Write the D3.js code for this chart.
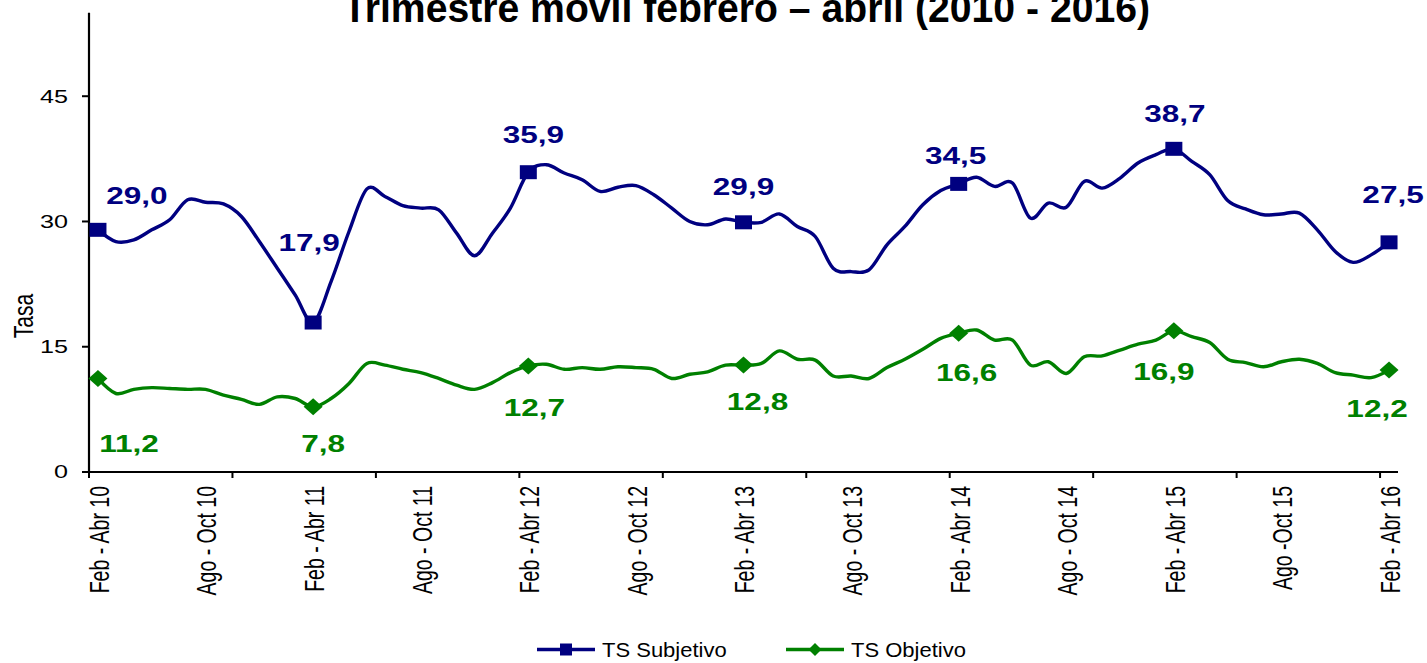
<!DOCTYPE html>
<html>
<head>
<meta charset="utf-8">
<script src="https://cdn.jsdelivr.net/npm/d3@7"></script>
<style>
  html, body { margin: 0; padding: 0; background: #fff; overflow: hidden; }
  text { font-family: "Liberation Sans", Arial, sans-serif; }
</style>
</head>
<body>
<svg id="chart" width="1427" height="663"></svg>
<script>
// ---- data -------------------------------------------------------------
const titleText = "Trimestre móvil febrero – abril (2010 - 2016)";
const yAxisTitle = "Tasa";
const seriesNames = ["TS Subjetivo", "TS Objetivo"];

// rolling quarters, Feb-Abr 2010 ... Feb-Abr 2016 (73 periods)
const monthNames = ["Ene", "Feb", "Mar", "Abr", "May", "Jun", "Jul", "Ago", "Sep", "Oct", "Nov", "Dic"];
const categories = d3.range(73).map(k => {
  const s = k + 1;
  return `${monthNames[s % 12]} - ${monthNames[(s + 2) % 12]} ${10 + Math.floor(s / 12)}`;
});

// labels shown every six periods
const tickLabels = [
  "Feb - Abr 10", "Ago - Oct 10", "Feb - Abr 11", "Ago - Oct 11", "Feb - Abr 12",
  "Ago - Oct 12", "Feb - Abr 13", "Ago - Oct 13", "Feb - Abr 14", "Ago - Oct 14",
  "Feb - Abr 15", "Ago -Oct 15", "Feb - Abr 16"
];
const yTicks = [0, 15, 30, 45];

const subjetivo = [
  29.0, 27.6, 27.8, 29.0, 30.2, 32.6, 32.3, 32.1, 30.6, 27.6, 24.4, 21.2,
  17.9, 22.8, 28.8, 33.9, 33.0, 31.9, 31.6, 31.4, 28.6, 25.9, 28.6, 31.6,
  35.9, 36.8, 35.8, 35.0, 33.6, 34.1, 34.3, 33.2, 31.6, 30.0, 29.6, 30.3,
  29.9, 29.9, 30.9, 29.4, 28.2, 24.4, 24.0, 24.2, 27.2, 29.4, 32.0, 33.7,
  34.5, 35.3, 34.2, 34.6, 30.4, 32.2, 31.7, 34.8, 34.0, 35.2, 37.0, 38.0,
  38.7, 37.2, 35.6, 32.5, 31.5, 30.8, 30.9, 31.0, 29.0, 26.4, 25.1, 26.0,
  27.5
];
const objetivo = [
  11.2, 9.4, 9.9, 10.1, 10.0, 9.9, 9.9, 9.2, 8.7, 8.1, 9.0, 8.8,
  7.8, 8.8, 10.6, 13.0, 12.8, 12.3, 11.9, 11.2, 10.4, 9.9, 10.7, 11.9,
  12.7, 12.9, 12.3, 12.5, 12.3, 12.6, 12.5, 12.3, 11.2, 11.7, 12.0, 12.8,
  12.8, 13.0, 14.5, 13.5, 13.4, 11.5, 11.5, 11.2, 12.5, 13.5, 14.7, 16.0,
  16.6, 17.0, 15.8, 15.8, 12.8, 13.2, 11.8, 13.8, 13.9, 14.6, 15.3, 15.8,
  16.9, 16.2, 15.5, 13.5, 13.1, 12.6, 13.2, 13.5, 13.0, 11.9, 11.6, 11.3,
  12.2
];

// periods that carry a marker and a value label (one per year)
const labelled = [0, 12, 24, 36, 48, 60, 72];

// ---- layout -----------------------------------------------------------
const plot = { left: 89, right: 1398, top: 12.7, bottom: 472 };
const colors = { subjetivo: "#000080", objetivo: "#008000", axis: "#000" };
// label placement relative to each marker [dx, dy(baseline)]
const subjLabelOffsets = [[39, -26], [-4, -72], [5, -29], [0, -27], [-3, -20], [1, -27], [4, -39]];
const objLabelOffsets  = [[31, 74], [10, 45], [6, 50], [14, 45], [8, 48], [-10, 49], [-12, 47]];
const textStretch = 1.4;

const svg = d3.select("#chart");

const x = d3.scalePoint()
  .domain(d3.range(categories.length))
  .range([plot.left, plot.right])
  .padding(0.5);
const step = x.step();

const y = d3.scaleLinear().domain([0, 55]).range([plot.bottom, plot.top]);

const fmt = v => v.toFixed(1).replace(".", ",");

// ---- title ------------------------------------------------------------
svg.append("text")
  .attr("x", 343).attr("y", 22)
  .attr("textLength", 807)
  .attr("lengthAdjust", "spacingAndGlyphs")
  .style("font-family", '"Liberation Sans Narrow", "Liberation Sans", Arial, sans-serif')
  .style("font-weight", "bold")
  .style("font-size", "40px")
  .attr("fill", "#000")
  .text(titleText);

// ---- axes -------------------------------------------------------------
const axes = svg.append("g");

// y axis
axes.append("line")
  .attr("x1", plot.left).attr("x2", plot.left)
  .attr("y1", plot.top).attr("y2", plot.bottom + 1)
  .attr("stroke", colors.axis).attr("stroke-width", 2.2);

axes.selectAll(".ytick").data(yTicks).join("line")
  .attr("class", "ytick")
  .attr("x1", plot.left - 7).attr("x2", plot.left)
  .attr("y1", d => y(d)).attr("y2", d => y(d))
  .attr("stroke", colors.axis).attr("stroke-width", 2);

axes.selectAll(".ylabel").data(yTicks).join("text")
  .attr("class", "ylabel")
  .attr("transform", d => `translate(68,${y(d)}) scale(${textStretch},1)`)
  .attr("text-anchor", "end")
  .attr("dy", "0.36em")
  .style("font-size", "18px")
  .attr("fill", "#000")
  .text(d => d);

// y axis title
svg.append("text")
  .attr("transform", `translate(23,316) scale(1.35,1) rotate(-90)`)
  .attr("text-anchor", "middle")
  .attr("dy", "0.36em")
  .style("font-size", "21px")
  .attr("fill", "#000")
  .text(yAxisTitle);

// x axis
axes.append("line")
  .attr("x1", plot.left - 1).attr("x2", plot.right)
  .attr("y1", plot.bottom).attr("y2", plot.bottom)
  .attr("stroke", colors.axis).attr("stroke-width", 2.2);

// tick marks fall on category boundaries, every eighth period
const boundaryTicks = d3.range(0, categories.length, 8);
axes.selectAll(".xtick").data(boundaryTicks).join("line")
  .attr("class", "xtick")
  .attr("x1", d => x(d) - step / 2).attr("x2", d => x(d) - step / 2)
  .attr("y1", plot.bottom).attr("y2", plot.bottom + 6)
  .attr("stroke", colors.axis).attr("stroke-width", 2);

// category labels, every sixth period
const labelIdx = d3.range(0, categories.length, 6);
axes.selectAll(".xlabel").data(labelIdx).join("text")
  .attr("class", "xlabel")
  .attr("transform", d => `translate(${x(d) + 1},486) scale(${textStretch},1) rotate(-90)`)
  .attr("text-anchor", "end")
  .attr("dy", "0.36em")
  .style("font-size", "19.5px")
  .attr("fill", "#000")
  .text((d, i) => tickLabels[i]);

// ---- series -----------------------------------------------------------
const line = d3.line()
  .x((d, i) => x(i))
  .y(d => y(d))
  .curve(d3.curveCardinal.tension(0));

function drawSeries(values, color, markerShape, offsets) {
  const g = svg.append("g");
  g.append("path")
    .datum(values)
    .attr("fill", "none")
    .attr("stroke", color)
    .attr("stroke-width", 3.4)
    .attr("stroke-linejoin", "round")
    .attr("d", line);

  g.selectAll(".marker").data(labelled).join("path")
    .attr("class", "marker")
    .attr("transform", i => `translate(${x(i)},${y(values[i])})`)
    .attr("fill", color)
    .attr("d", markerShape);

  g.selectAll(".vlabel").data(labelled).join("text")
    .attr("class", "vlabel")
    .attr("transform", (i, k) =>
      `translate(${x(i) + offsets[k][0]},${y(values[i]) + offsets[k][1]}) scale(1.37,1)`)
    .attr("text-anchor", "middle")
    .style("font-size", "23px")
    .style("font-weight", "bold")
    .attr("fill", color)
    .text(i => fmt(values[i]));
}

const squarePath = "M-8.5,-7 H8.5 V7 H-8.5 Z";
const diamondPath = "M0,-8.5 L9.5,0 L0,8.5 L-9.5,0 Z";

drawSeries(subjetivo, colors.subjetivo, squarePath, subjLabelOffsets);
drawSeries(objetivo, colors.objetivo, diamondPath, objLabelOffsets);

// ---- legend -----------------------------------------------------------
const legendItems = [
  { name: seriesNames[0], color: colors.subjetivo, shape: "M-6,-6 H6 V6 H-6 Z", x0: 537 },
  { name: seriesNames[1], color: colors.objetivo, shape: "M0,-6.5 L6.5,0 L0,6.5 L-6.5,0 Z", x0: 786 }
];
const legend = svg.append("g");
legendItems.forEach(it => {
  const ly = 649.5;
  legend.append("line")
    .attr("x1", it.x0).attr("x2", it.x0 + 58)
    .attr("y1", ly).attr("y2", ly)
    .attr("stroke", it.color).attr("stroke-width", 3.4);
  legend.append("path")
    .attr("transform", `translate(${it.x0 + 29},${ly})`)
    .attr("fill", it.color)
    .attr("d", it.shape);
  legend.append("text")
    .attr("transform", `translate(${it.x0 + 65},${ly + 7}) scale(1.1,1)`)
    .style("font-size", "20px")
    .attr("fill", "#000")
    .text(it.name);
});
</script>
</body>
</html>
